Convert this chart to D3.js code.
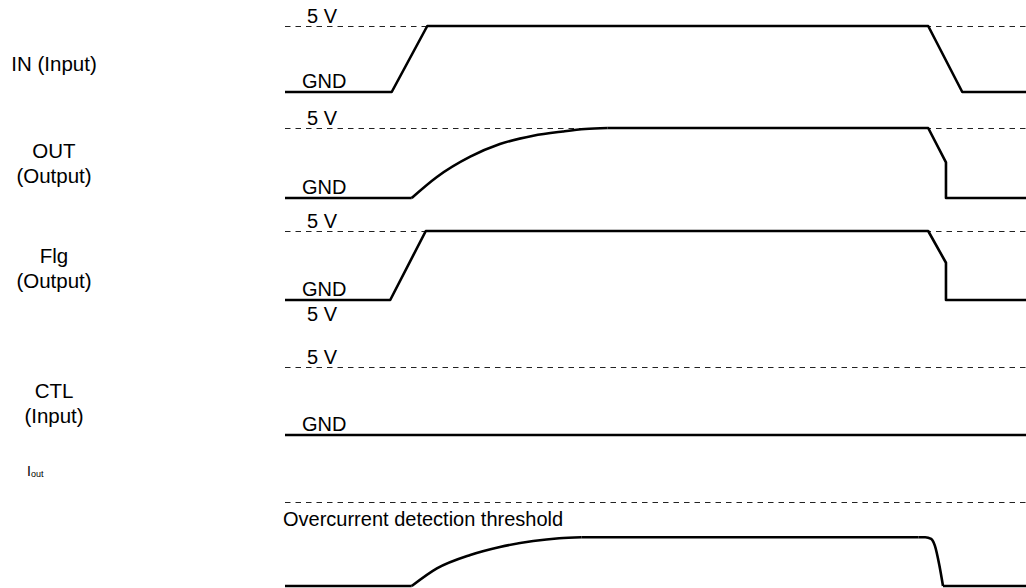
<!DOCTYPE html>
<html>
<head>
<meta charset="utf-8">
<script src="https://cdn.jsdelivr.net/npm/d3@7"></script>
<style>
  body { margin: 0; background: #fff; }
  text { font-family: "Liberation Sans", Arial, Helvetica, sans-serif; fill: #000; }
</style>
</head>
<body>
<svg id="chart" width="1026" height="588"></svg>
<script>
// time axis in arbitrary units, 0..100 across the plot
const timeDomain = [0, 100];

// IN : straight ramps
const inTimes  = [0, 14.4, 19.2, 86.8, 91.4, 100];
const inLevels = [0, 0, 1, 1, 0, 0];

// OUT : slow rise (curved), then fast drop
const outFlatTimes  = [0, 17.1];
const outFlatLevels = [0, 0];
const outRiseTimes  = [17.1, 20.5, 25, 29, 33.5, 37.5, 40.5, 43.5];
const outRiseLevels = [0, 0.3, 0.59, 0.77, 0.89, 0.95, 0.985, 1];
const outFallTimes  = [43.5, 86.8, 89.2, 89.2, 100];
const outFallLevels = [1, 1, 0.51, 0, 0];

// Flg
const flgTimes  = [0, 14.2, 19.0, 86.8, 89.2, 89.2, 100];
const flgLevels = [0, 0, 1, 1, 0.54, 0, 0];

// CTL stays at GND
const ctlTimes  = [0, 100];
const ctlLevels = [0, 0];

// Iout (threshold = 1)
const ioutThreshold = 1;
const ioutFlatTimes  = [0, 17.1];
const ioutFlatLevels = [0, 0];
const ioutRiseTimes  = [17.1, 20.5, 25, 29, 33.5, 37, 40];
const ioutRiseLevels = [0, 0.21, 0.37, 0.465, 0.535, 0.568, 0.58];
const ioutTopTimes   = [40, 85.5];
const ioutTopLevels  = [0.58, 0.58];
const ioutFallTimes  = [85.5, 86.4, 87.2, 87.7, 88.3, 88.8];
const ioutFallLevels = [0.58, 0.58, 0.56, 0.48, 0.25, 0];
const ioutEndTimes   = [88.8, 100];
const ioutEndLevels  = [0, 0];

const rowLabels = [["IN (Input)"], ["OUT", "(Output)"], ["Flg", "(Output)"], ["CTL", "(Input)"]];

const svg = d3.select('#chart');
const x = d3.scaleLinear().domain(timeDomain).range([285, 1026]);

// one y scale per row (GND -> 5 V)
const yIn  = d3.scaleLinear().domain([0, 1]).range([92, 26]);
const yOut = d3.scaleLinear().domain([0, 1]).range([198, 128]);
const yFlg = d3.scaleLinear().domain([0, 1]).range([300, 231]);
const yCtl = d3.scaleLinear().domain([0, 1]).range([435, 367]);
const yIout = d3.scaleLinear().domain([0, ioutThreshold]).range([586, 502]);

function zip(t, v) { return t.map((d, i) => [d, v[i]]); }

function trace(y, t, v, curve) {
  const line = d3.line().x(d => x(d[0])).y(d => y(d[1])).curve(curve || d3.curveLinear);
  svg.append('path')
    .attr('d', line(zip(t, v)))
    .attr('fill', 'none')
    .attr('stroke', '#000')
    .attr('stroke-width', 2.6)
    .attr('stroke-linejoin', 'round');
}

function dashed(y, level) {
  // half pixel offset keeps the thin dashes crisp
  svg.append('line')
    .attr('x1', x(timeDomain[0])).attr('x2', x(timeDomain[1]))
    .attr('y1', y(level) + 0.5).attr('y2', y(level) + 0.5)
    .attr('stroke', '#222')
    .attr('stroke-width', 1.1)
    .attr('stroke-dasharray', '5.5,5');
}

function levelText(str, xp, yp) {
  svg.append('text').text(str).attr('x', xp).attr('y', yp).style('font-size', '20px');
}

// reference lines
[yIn, yOut, yFlg, yCtl].forEach(y => dashed(y, 1));
dashed(yIout, ioutThreshold);

// 5 V / GND labels
[yIn, yOut, yFlg, yCtl].forEach(y => {
  levelText('5 V', 307, y(1) - 3);
  levelText('GND', 302, y(0) - 4);
});
levelText('5 V', 307, yFlg(0) + 21);
levelText('Overcurrent detection threshold', 283, yIout(ioutThreshold) + 24);

// signals
trace(yIn, inTimes, inLevels);
trace(yOut, outFlatTimes, outFlatLevels);
trace(yOut, outRiseTimes, outRiseLevels, d3.curveMonotoneX);
trace(yOut, outFallTimes, outFallLevels);
trace(yFlg, flgTimes, flgLevels);
trace(yCtl, ctlTimes, ctlLevels);
trace(yIout, ioutFlatTimes, ioutFlatLevels);
trace(yIout, ioutRiseTimes, ioutRiseLevels, d3.curveMonotoneX);
trace(yIout, ioutTopTimes, ioutTopLevels);
trace(yIout, ioutFallTimes, ioutFallLevels, d3.curveMonotoneX);
trace(yIout, ioutEndTimes, ioutEndLevels);

// row names on the left
const labelBase = [71, 158, 263, 398];
rowLabels.forEach((lines, i) => {
  const t = svg.append('text')
    .attr('x', 54).attr('y', labelBase[i])
    .attr('text-anchor', 'middle')
    .style('font-size', '20.5px');
  lines.forEach((s, j) => {
    t.append('tspan').attr('x', 54).attr('dy', j === 0 ? 0 : 24.5).text(s);
  });
});

const iout = svg.append('text').attr('x', 27).attr('y', 476).style('font-size', '14px');
iout.append('tspan').text('I');
iout.append('tspan').attr('dy', 1).style('font-size', '9px').text('out');
</script>
</body>
</html>
